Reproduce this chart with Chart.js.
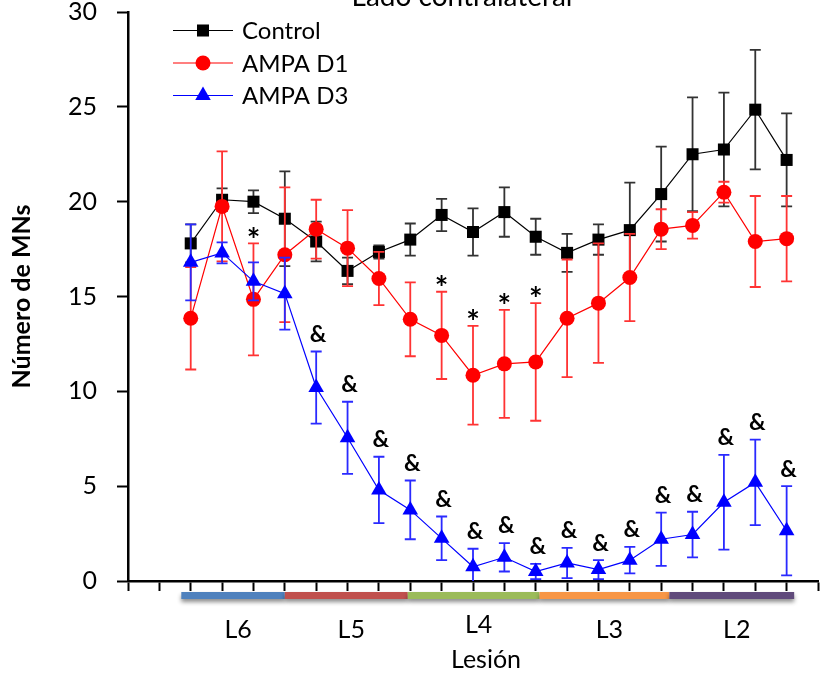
<!DOCTYPE html>
<html>
<head>
<meta charset="utf-8">
<title>Lado contralateral</title>
<script src="https://cdn.jsdelivr.net/npm/chart.js@4/dist/chart.umd.min.js"></script>
<style>
  html, body { margin: 0; padding: 0; background: #fff; }
  canvas { display: block; }
</style>
</head>
<body>
<canvas id="mn-chart" width="827" height="673"></canvas>
<script>
// ---- datos: posición a lo largo de la médula (unidad del eje X) ----
const levels = [2, 3, 4, 5, 6, 7, 8, 9, 10, 11, 12, 13, 14, 15, 16, 17, 18, 19, 20, 21];

const controlMean = [17.8, 20.1, 20.0, 19.1, 17.9, 16.35, 17.35, 18.0, 19.3, 18.4, 19.45, 18.15, 17.3, 18.0, 18.5, 20.4, 22.5, 22.75, 24.85, 22.2];
const controlErr  = [1.0, 0.6, 0.6, 2.5, 1.05, 0.7, 0.35, 0.85, 0.85, 1.25, 1.3, 0.95, 1.0, 0.8, 2.5, 2.5, 3.0, 3.0, 3.15, 2.45];

const d1Mean = [13.85, 19.75, 14.85, 17.2, 18.55, 17.55, 15.95, 13.8, 12.95, 10.85, 11.45, 11.55, 13.85, 14.65, 16.0, 18.55, 18.75, 20.5, 17.9, 18.05];
const d1Err  = [2.7, 2.9, 2.95, 3.55, 1.55, 2.0, 1.4, 1.95, 2.3, 2.6, 2.85, 3.1, 3.1, 3.15, 2.3, 1.05, 0.7, 0.55, 2.4, 2.25];

const d3Mean = [16.8, 17.3, 15.8, 15.15, 10.2, 7.55, 4.8, 3.75, 2.25, 0.75, 1.25, 0.5, 0.95, 0.6, 1.1, 2.2, 2.45, 4.15, 5.2, 2.65];
const d3Err  = [2.0, 0.55, 1.0, 1.9, 1.9, 1.9, 1.75, 1.55, 1.15, 0.95, 0.75, 0.4, 0.8, 0.5, 0.7, 1.4, 1.2, 2.5, 2.25, 2.35];

// significancia: * = AMPA D1 vs control, & = AMPA D3 vs control
const d1Star = [4, 10, 11, 12, 13];
const d3Amp  = [6, 7, 8, 9, 10, 11, 12, 13, 14, 15, 16, 17, 18, 19, 20, 21];

// segmentos medulares
const segNames  = ['L6', 'L5', 'L4', 'L3', 'L2'];
const segEdges  = [1.7, 5.0, 8.92, 13.12, 17.26, 21.24];
const segColors = ['#4F81BD', '#C0504D', '#9BBB59', '#F79646', '#604A7B'];

const yTicks = [0, 5, 10, 15, 20, 25, 30];

const FONT = 'Lato, "Open Sans", sans-serif';

function points(means) {
  return levels.map((x, i) => ({ x, y: means[i] }));
}

const series = [
  { label: 'Control',  mean: controlMean, err: controlErr, color: '#000000', errColor: '#333333', style: 'rect',     radius: 8.5, order: 3 },
  { label: 'AMPA D1',  mean: d1Mean,      err: d1Err,      color: '#FF0000', errColor: '#FF3333', style: 'circle',   radius: 7.5, order: 2 },
  { label: 'AMPA D3',  mean: d3Mean,      err: d3Err,      color: '#0000FF', errColor: '#2A2AFF', style: 'triangle', radius: 9,   order: 1 },
];

// ---- barras de error, bajo los marcadores de cada serie ----
const errorBarsPlugin = {
  id: 'errorBars',
  beforeDatasetDraw(chart, args) {
    const ds = chart.data.datasets[args.index];
    const ys = chart.scales.y;
    const ctx = chart.ctx;
    ctx.save();
    ctx.strokeStyle = ds.errColor;
    ctx.lineWidth = 1.8;
    args.meta.data.forEach((pt, i) => {
      const v = ds.data[i].y;
      const e = ds.errors[i];
      const top = ys.getPixelForValue(v + e);
      const bot = ys.getPixelForValue(Math.max(v - e, 0));
      ctx.beginPath();
      ctx.moveTo(pt.x, top); ctx.lineTo(pt.x, bot);
      ctx.moveTo(pt.x - 5.5, top); ctx.lineTo(pt.x + 5.5, top);
      if (v - e > 0) { ctx.moveTo(pt.x - 5.5, bot); ctx.lineTo(pt.x + 5.5, bot); }
      ctx.stroke();
    });
    ctx.restore();
  },
};

// ---- marcas de significancia, leyenda, segmentos y título ----
function drawMarker(ctx, style, x, y, r, color) {
  ctx.fillStyle = color;
  ctx.beginPath();
  if (style === 'rect') {
    const s = r * Math.SQRT1_2;
    ctx.rect(x - s, y - s, 2 * s, 2 * s);
  } else if (style === 'circle') {
    ctx.arc(x, y, r, 0, Math.PI * 2);
  } else {
    ctx.moveTo(x, y - r);
    ctx.lineTo(x + r * 0.866, y + r * 0.5);
    ctx.lineTo(x - r * 0.866, y + r * 0.5);
    ctx.closePath();
  }
  ctx.fill();
}

const decorPlugin = {
  id: 'decor',
  afterDatasetsDraw(chart) {
    const { ctx, scales: { x: xs, y: ys } } = chart;
    ctx.save();
    ctx.fillStyle = '#000';
    ctx.textAlign = 'center';
    ctx.textBaseline = 'middle';

    ctx.font = 'bold 32px ' + FONT;
    d1Star.forEach((lv) => {
      const i = levels.indexOf(lv);
      ctx.fillText('*', xs.getPixelForValue(lv), ys.getPixelForValue(d1Mean[i] + d1Err[i]) - 2);
    });

    ctx.font = 'bold 23px ' + FONT;
    d3Amp.forEach((lv) => {
      const i = levels.indexOf(lv);
      ctx.fillText('&', xs.getPixelForValue(lv) + 2, ys.getPixelForValue(d3Mean[i] + d3Err[i]) - 17);
    });
    ctx.restore();
  },
  afterDraw(chart) {
    const { ctx, scales: { x: xs } } = chart;
    ctx.save();

    // leyenda
    series.forEach((s, k) => {
      const y = 30.5 + k * 32.5;
      ctx.strokeStyle = s.color;
      ctx.lineWidth = 1.2;
      ctx.beginPath();
      ctx.moveTo(173, y); ctx.lineTo(233, y);
      ctx.stroke();
      drawMarker(ctx, s.style, 203, y, s.radius, s.color);
      ctx.fillStyle = '#000';
      ctx.font = '24px ' + FONT;
      ctx.textAlign = 'left';
      ctx.textBaseline = 'middle';
      ctx.fillText(s.label, 242, y + 1);
    });

    // barra de segmentos medulares
    const barTop = 592, barH = 7;
    segNames.forEach((name, k) => {
      const x0 = xs.getPixelForValue(segEdges[k]);
      const x1 = xs.getPixelForValue(segEdges[k + 1]);
      ctx.save();
      ctx.shadowColor = 'rgba(0,0,0,0.45)';
      ctx.shadowBlur = 4;
      ctx.shadowOffsetY = 3;
      ctx.fillStyle = segColors[k];
      ctx.fillRect(x0, barTop, x1 - x0, barH);
      ctx.restore();

      ctx.fillStyle = '#000';
      ctx.font = '25px ' + FONT;
      ctx.textAlign = 'center';
      ctx.textBaseline = 'alphabetic';
      ctx.fillText(name, (x0 + x1) / 2 + 5, name === 'L4' ? 633 : 638);
    });

    ctx.font = '25px ' + FONT;
    ctx.textAlign = 'center';
    ctx.textBaseline = 'alphabetic';
    ctx.fillText('Lesión', 486, 668);

    // título, cortado por el borde superior
    ctx.font = '28px ' + FONT;
    ctx.fillText('Lado contralateral', 462, 6);
    ctx.restore();
  },
};

const chart = new Chart(document.getElementById('mn-chart').getContext('2d'), {
  type: 'line',
  data: {
    datasets: series.map((s) => ({
      label: s.label,
      data: points(s.mean),
      errors: s.err,
      errColor: s.errColor,
      order: s.order,
      borderColor: s.color,
      borderWidth: 1.2,
      backgroundColor: s.color,
      pointStyle: s.style,
      pointRadius: s.radius,
      pointBackgroundColor: s.color,
      pointBorderColor: s.color,
      pointBorderWidth: 0,
      tension: 0,
      fill: false,
    })),
  },
  options: {
    responsive: false,
    animation: false,
    events: [],
    layout: { padding: { top: 12, right: 9, left: 0, bottom: 0 } },
    plugins: {
      legend: { display: false },
      tooltip: { enabled: false },
    },
    scales: {
      x: {
        type: 'linear',
        min: 0,
        max: 22,
        afterFit(scale) {
          scale.height = 92;
          scale.paddingLeft = 0;
          scale.paddingRight = 0;
        },
        ticks: { stepSize: 1, display: false },
        border: { color: '#000', width: 2.5 },
        grid: { drawOnChartArea: false, drawTicks: true, tickLength: 10, tickWidth: 2, tickColor: '#000' },
      },
      y: {
        min: 0,
        max: 30,
        afterFit(scale) {
          scale.width = 128;
          scale.paddingTop = 0;
          scale.paddingBottom = 0;
        },
        afterBuildTicks(scale) { scale.ticks = yTicks.map((v) => ({ value: v })); },
        ticks: { color: '#000', padding: 20, font: { family: FONT, size: 25 } },
        border: { color: '#000', width: 2.5 },
        grid: { drawOnChartArea: false, drawTicks: true, tickLength: 11, tickWidth: 2, tickColor: '#000' },
        title: {
          display: true,
          text: 'Número de MNs',
          color: '#000',
          font: { family: FONT, size: 25, weight: 'bold' },
          padding: { top: 7, bottom: 0 },
        },
      },
    },
  },
  plugins: [errorBarsPlugin, decorPlugin],
});
</script>
</body>
</html>
